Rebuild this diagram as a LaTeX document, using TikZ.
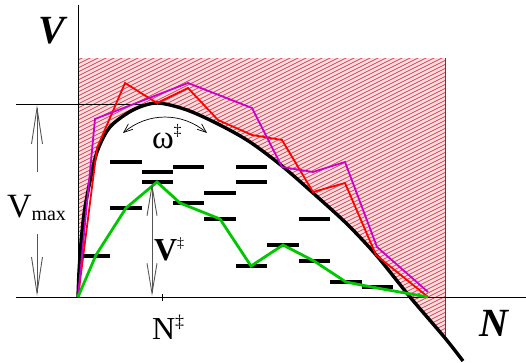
\documentclass[tikz,border=0pt]{standalone}
\usepackage{fontspec}
\setmainfont{Liberation Serif}
\usetikzlibrary{arrows.meta}
\definecolor{hatchpink}{RGB}{255,222,222}
\definecolor{hatchline}{RGB}{205,75,95}
\definecolor{borderred}{RGB}{170,30,30}
\definecolor{mag}{RGB}{204,0,204}
\definecolor{grn}{RGB}{0,200,0}
\definecolor{arrowgray}{RGB}{85,85,85}
\tikzset{
  levelbar/.style={line width=3.2pt, black},
  envelope/.style={line width=3.4pt, black, line join=round},
  traj/.style={line width=1.8pt, line join=miter},
  grayarrow/.style={arrowgray, line width=0.9pt},
  lbl/.style={anchor=base west, inner sep=0pt, outer sep=0pt},
}
\begin{document}
\begin{tikzpicture}[x=1pt,y=-1pt]
\useasboundingbox (0,0) rectangle (526,362);
% hatched region
\begin{scope}
\clip (78,58) rectangle (445,362);
\clip plot[smooth] coordinates {(78,297) (79,272) (81,243) (84,214) (89,186) (97,152) (110,127) (133,110) (157,103) (187,110) (220,125) (250,142) (282,166) (313,193) (347,224) (377,256) (410,297) (445,338) (463,361)} -- (480,370) -- (480,40) -- (70,40) -- (70,297) -- cycle;
\fill[hatchpink] (60,30) rectangle (500,380);
\foreach \i in {0,...,145} \draw[hatchline, line width=0.7pt] (70,40+4*\i) -- ++(420,-210);
\end{scope}
\draw[borderred, line width=1pt] (445,58) -- (445,337);
% axes
\coordinate (ytop) at (78,5);
\coordinate (org) at (78,297);
\coordinate (xl) at (16,297);
\coordinate (xr) at (526,297);
\coordinate (vml) at (16,104);
\coordinate (vmr) at (157,104);
\draw[line width=0.8pt] (ytop) -- (org);
\draw[line width=0.8pt] (xl) -- (xr);
\draw[line width=0.8pt] (vml) -- (vmr);
\coordinate (tk1) at (162,294);
\coordinate (tk2) at (162,301);
\draw[line width=0.8pt] (tk1) -- (tk2);
% envelope curve
\draw[envelope] plot[smooth] coordinates {(78,297) (79,272) (81,243) (84,214) (89,186) (97,152) (110,127) (133,110) (157,103) (187,110) (220,125) (250,142) (282,166) (313,193) (347,224) (377,256) (410,297) (445,338) (463,361)};
% red and magenta
\draw[traj, red] (78,297) -- (97,148) -- (125,83) -- (157,103) -- (188,88) -- (218,120) -- (252,135) -- (282,140) -- (313,192) -- (345,183) -- (376,255) -- (428,297);
\draw[traj, mag] (78,297) -- (95,119) -- (188,83) -- (252,108) -- (282,167) -- (313,172) -- (345,162) -- (377,247) -- (428,292);
% levels
\foreach \xa/\xb/\yy in {83/110/256, 110/142/162, 110/142/208, 142/173/172, 142/173/182, 173/204/167, 173/204/203, 204/236/193, 204/236/219, 236/267/167, 236/267/182, 236/267/266, 267/299/245, 299/330/219, 299/330/261, 330/362/282, 362/393/287}
  \draw[levelbar] (\xa,\yy) -- (\xb,\yy);
% green
\draw[line width=2.8pt, grn, line join=miter] (78,297) -- (96,255) -- (126,208) -- (157,182) -- (180,203) -- (220,219) -- (251,266) -- (283,245) -- (314,261) -- (346,282) -- (377,288) -- (428,297);
% arrows
\coordinate (vm1) at (37,172);
\coordinate (vm2) at (37,105);
\coordinate (vm3) at (37,234);
\coordinate (vm4) at (37,296);
\draw[grayarrow, -{Straight Barb[length=36pt,width=11pt]}] (vm1) -- (vm2);
\draw[grayarrow, -{Straight Barb[length=36pt,width=11pt]}] (vm3) -- (vm4);
\coordinate (vd1) at (152,183);
\coordinate (vd2) at (152,296);
\draw[grayarrow, {Straight Barb[length=30pt,width=10pt]}-{Straight Barb[length=30pt,width=10pt]}] (vd1) -- (vd2);
\coordinate (w1) at (123,133);
\coordinate (w2) at (207,133);
\draw[line width=0.7pt, {Straight Barb[length=9pt,width=7pt]}-{Straight Barb[length=9pt,width=7pt]}] (w1) .. controls (148,112) and (182,112) .. (w2);
% labels
\node[lbl] (Vlab) at (38,43) {\fontsize{40}{40}\selectfont\bfseries\itshape V};
\node[lbl] (Nlab) at (479,336) {\fontsize{40}{40}\selectfont\bfseries\itshape N};
\node[lbl] (vmax) at (7,217) {\fontsize{34}{34}\selectfont V\raisebox{-3pt}{\fontsize{20}{20}\selectfont max}};
\node[lbl] (nts) at (152,339) {\fontsize{32}{32}\selectfont N\raisebox{12pt}{\fontsize{18}{18}\selectfont ‡}};
\node[lbl] (omega) at (152,148) {\fontsize{33}{33}\selectfont ω\raisebox{13pt}{\fontsize{16}{16}\selectfont ‡}};
\node[lbl] (vts) at (154,260) {\fontsize{32}{32}\selectfont\bfseries V\raisebox{13pt}{\fontsize{14}{14}\selectfont\mdseries ‡}};
\end{tikzpicture}
\end{document}
